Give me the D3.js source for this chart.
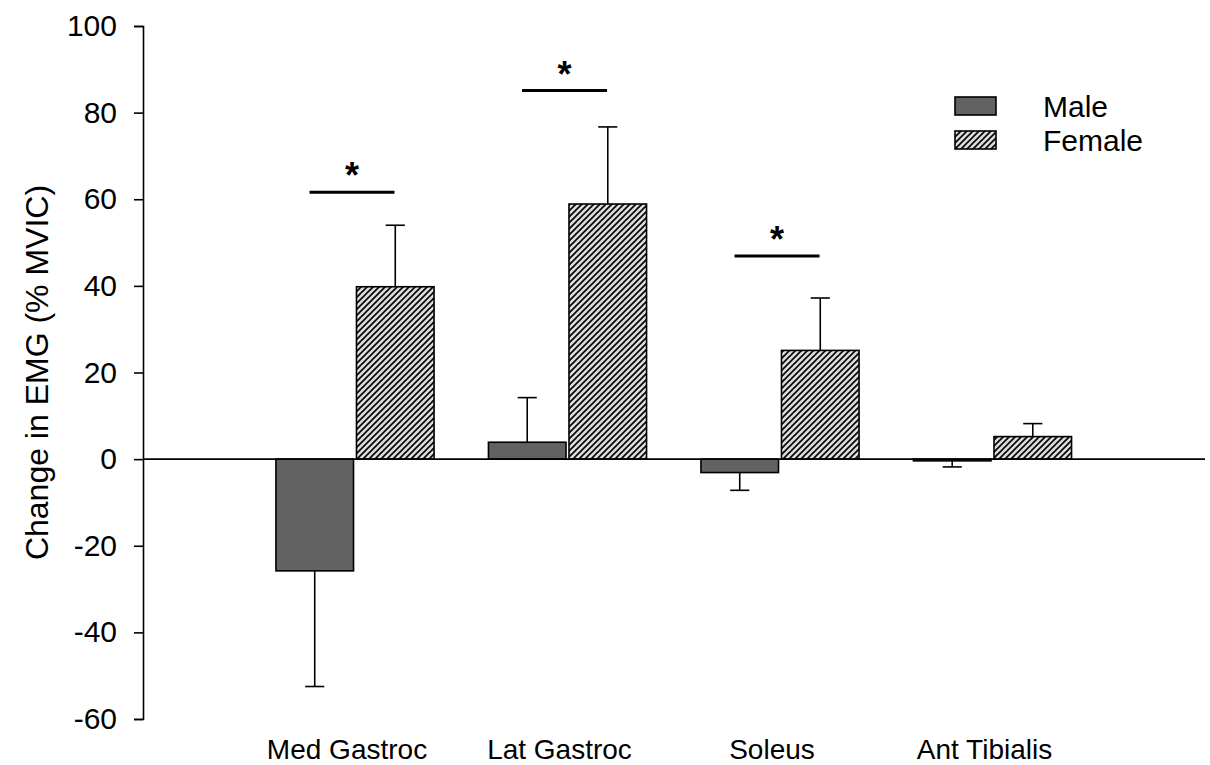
<!DOCTYPE html>
<html>
<head>
<meta charset="utf-8">
<script src="https://cdn.jsdelivr.net/npm/d3@7"></script>
<style>
  html, body { margin: 0; padding: 0; background: #fff; }
  svg { display: block; font-family: "Liberation Sans", Arial, sans-serif; }
</style>
</head>
<body>
<svg id="chart" width="1210" height="765"></svg>
<script>
// ---- data ----
const categories = ["Med Gastroc", "Lat Gastroc", "Soleus", "Ant Tibialis"];
const maleMean = [-25.8, 3.9, -3.1, -0.4];
const maleErr = [26.7, 10.3, 4.1, 1.4];
const femaleMean = [39.8, 58.9, 25.1, 5.2];
const femaleErr = [14.2, 17.8, 12.1, 3.0];
const yTicks = [-60, -40, -20, 0, 20, 40, 60, 80, 100];
const yTickLabels = ["-60", "-40", "-20", "0", "20", "40", "60", "80", "100"];
const sigCategory = [0, 1, 2];
const sigLevel = [61.6, 85.1, 46.9];
const seriesNames = ["Male", "Female"];

// ---- layout ----
const axisX = 143;
const svg = d3.select("#chart");

const x = d3.scaleLinear().domain([0, 5]).range([142.5, 1205]);
const y = d3.scaleLinear().domain([-60, 100]).range([719, 26]);
const barW = 0.365, halfGap = 0.007, capHalf = 0.045, sigHalf = 0.2;

// hatch pattern
const defs = svg.append("defs");
const pat = defs.append("pattern").attr("id", "hatch")
  .attr("patternUnits", "userSpaceOnUse").attr("width", 6).attr("height", 6);
pat.append("rect").attr("width", 6).attr("height", 6).attr("fill", "#dcdcdc");
pat.append("path").attr("d", "M-1,7 L7,-1 M-1,1 L1,-1 M5,7 L7,5")
  .attr("stroke", "#000").attr("stroke-width", 1.6);

const fills = ["#626262", "url(#hatch)"];

const rows = categories.map((c, i) => ({
  cat: c, i,
  bars: [
    { s: 0, mean: maleMean[i], err: maleErr[i] },
    { s: 1, mean: femaleMean[i], err: femaleErr[i] }
  ]
}));

// y axis
const yAxis = d3.axisLeft(y).tickValues(yTicks).tickSize(9).tickPadding(17)
  .tickFormat((d, i) => yTickLabels[i]);
const gy = svg.append("g").attr("transform", `translate(${axisX},0)`).call(yAxis);
gy.select(".domain").attr("stroke", "#000").attr("stroke-width", 1.6);
gy.selectAll(".tick line").attr("stroke", "#000").attr("stroke-width", 1.6);
gy.selectAll(".tick text").attr("font-size", 30).attr("fill", "#000")
  .attr("font-family", "Liberation Sans, Arial, sans-serif");

// y label
svg.append("text")
  .attr("transform", `translate(48,${(y(100) + y(-60)) / 2}) rotate(-90)`)
  .attr("text-anchor", "middle").attr("font-size", 32).attr("fill", "#000")
  .text("Change in EMG (% MVIC)");

// error bars
const eg = svg.append("g").attr("stroke", "#000").attr("stroke-width", 1.6);
rows.forEach(r => {
  r.bars.forEach(b => {
    const cx = x(r.i + 1) + (b.s === 0 ? -(halfGap + barW / 2) : (halfGap + barW / 2)) * (x(1) - x(0));
    const end = b.mean >= 0 ? b.mean + b.err : b.mean - b.err;
    const cap = capHalf * (x(1) - x(0));
    eg.append("line").attr("x1", cx).attr("x2", cx).attr("y1", y(b.mean)).attr("y2", y(end));
    eg.append("line").attr("x1", cx - cap).attr("x2", cx + cap).attr("y1", y(end)).attr("y2", y(end));
  });
});

// bars
const bg = svg.append("g");
rows.forEach(r => {
  r.bars.forEach(b => {
    const x0 = b.s === 0 ? r.i + 1 - halfGap - barW : r.i + 1 + halfGap;
    bg.append("rect")
      .attr("x", x(x0)).attr("width", x(x0 + barW) - x(x0))
      .attr("y", y(Math.max(0, b.mean)))
      .attr("height", Math.abs(y(b.mean) - y(0)))
      .attr("fill", fills[b.s]).attr("stroke", "#000").attr("stroke-width", 1.6);
  });
});

// zero line
svg.append("line").attr("x1", axisX).attr("x2", x(5)).attr("y1", y(0)).attr("y2", y(0))
  .attr("stroke", "#000").attr("stroke-width", 1.6);

// category labels
svg.append("g").selectAll("text").data(categories).join("text")
  .attr("x", (d, i) => x(i + 1) - 8).attr("y", 759)
  .attr("text-anchor", "middle").attr("font-size", 28).attr("fill", "#000")
  .text(d => d);

// significance
const sg = svg.append("g");
sigCategory.forEach((c, k) => {
  const cx = x(c + 1) - 3;
  const ly = y(sigLevel[k]);
  sg.append("line").attr("x1", cx - sigHalf * (x(1) - x(0))).attr("x2", cx + sigHalf * (x(1) - x(0)))
    .attr("y1", ly).attr("y2", ly).attr("stroke", "#000").attr("stroke-width", 3);
  sg.append("text").attr("x", cx).attr("y", ly - 4).attr("text-anchor", "middle")
    .attr("font-size", 36).attr("font-weight", "bold").attr("fill", "#000").text("*");
});

// legend
const lg = svg.append("g");
seriesNames.forEach((n, k) => {
  const ty = 97 + k * 34;
  lg.append("rect").attr("x", 955).attr("y", ty).attr("width", 41).attr("height", 18)
    .attr("fill", fills[k]).attr("stroke", "#000").attr("stroke-width", 1.6);
  lg.append("text").attr("x", 1043).attr("y", ty + 20).attr("font-size", 30)
    .attr("fill", "#000").text(n);
});
</script>
</body>
</html>
